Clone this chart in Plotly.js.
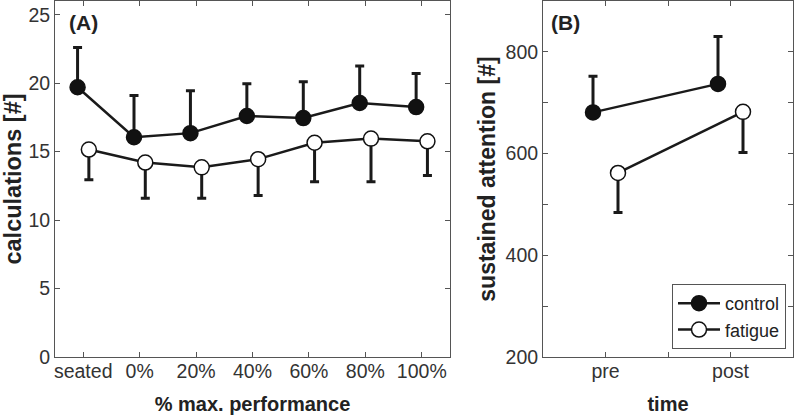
<!DOCTYPE html>
<html>
<head>
<meta charset="utf-8">
<script src="https://cdn.plot.ly/plotly-3.0.1.min.js"></script>
<style>html,body{margin:0;padding:0;background:#fff;}#chart{width:795px;height:420px;}</style>
</head>
<body>
<div id="chart"></div>
<script>
// Panel A data
const categoriesA = ['seated', '0%', '20%', '40%', '60%', '80%', '100%'];
const controlA = [19.7, 16.05, 16.35, 17.6, 17.45, 18.55, 18.25];
const controlAErrUp = [2.9, 3.05, 3.1, 2.35, 2.65, 2.7, 2.45];
const fatigueA = [15.15, 14.2, 13.85, 14.45, 15.65, 15.95, 15.75];
const fatigueAErrDown = [2.2, 2.6, 2.25, 2.65, 2.85, 3.15, 2.5];
const yTicksA = [0, 5, 10, 15, 20, 25];

// Panel B data
const categoriesB = ['pre', 'post'];
const controlB = [681, 737];
const controlBErrUp = [71, 93];
const fatigueB = [562, 682];
const fatigueBErrDown = [78, 80];
const yTicksB = [200, 300, 400, 500, 600, 700, 800, 900];
const yTickTextB = ['200', '', '400', '', '600', '', '800', ''];
const xTicksB = [1, 1.5, 2];
const xTickTextB = ['pre', '', 'post'];

const seriesNames = ['control', 'fatigue'];

const ink = '#1a1a1a';
const frame = '#555555';
const font = 'Liberation Sans, Arial, Helvetica, sans-serif';

function idx(arr, off, base) { return arr.map((_, i) => i + base + off); }

const markerCtrl = {symbol: 'circle', size: 15, color: '#111111', line: {color: '#111111', width: 1.5}};
const markerFat = {symbol: 'circle', size: 15, color: '#ffffff', line: {color: '#111111', width: 1.5}};

const traces = [
  {
    x: idx(categoriesA, -0.1, 0), y: controlA, name: seriesNames[0], type: 'scatter', mode: 'lines+markers',
    xaxis: 'x', yaxis: 'y', line: {color: ink, width: 2.5}, marker: markerCtrl, showlegend: false,
    error_y: {type: 'data', symmetric: false, array: controlAErrUp, arrayminus: controlA.map(() => 0), color: ink, thickness: 3, width: 4.5}
  },
  {
    x: idx(categoriesA, 0.1, 0), y: fatigueA, name: seriesNames[1], type: 'scatter', mode: 'lines+markers',
    xaxis: 'x', yaxis: 'y', line: {color: ink, width: 2.5}, marker: markerFat, showlegend: false,
    error_y: {type: 'data', symmetric: false, array: fatigueA.map(() => 0), arrayminus: fatigueAErrDown, color: ink, thickness: 3, width: 4.5}
  },
  {
    x: idx(categoriesB, -0.1, 1), y: controlB, name: seriesNames[0], type: 'scatter', mode: 'lines+markers',
    xaxis: 'x2', yaxis: 'y2', line: {color: ink, width: 2.5}, marker: markerCtrl, showlegend: true,
    error_y: {type: 'data', symmetric: false, array: controlBErrUp, arrayminus: controlB.map(() => 0), color: ink, thickness: 3, width: 4.5}
  },
  {
    x: idx(categoriesB, 0.1, 1), y: fatigueB, name: seriesNames[1], type: 'scatter', mode: 'lines+markers',
    xaxis: 'x2', yaxis: 'y2', line: {color: ink, width: 2.5}, marker: markerFat, showlegend: true,
    error_y: {type: 'data', symmetric: false, array: fatigueB.map(() => 0), arrayminus: fatigueBErrDown, color: ink, thickness: 3, width: 4.5}
  }
];

const axisCommon = {
  showline: true, mirror: 'ticks', linecolor: frame, linewidth: 1,
  ticks: 'inside', ticklen: 5, tickcolor: frame, tickwidth: 1,
  showgrid: false, zeroline: false, automargin: false,
  tickfont: {family: font, size: 19.5, color: '#333333'}
};

const layout = {
  width: 795, height: 420,
  margin: {l: 0, r: 0, t: 1, b: 63},
  paper_bgcolor: '#ffffff', plot_bgcolor: '#ffffff',
  font: {family: font, color: '#222222'},
  xaxis: Object.assign({}, axisCommon, {
    domain: [55 / 795, 450 / 795], range: [-0.5, 6.5],
    tickvals: categoriesA.map((_, i) => i), ticktext: categoriesA, ticklabelstandoff: -3,
    title: {text: '% max. performance', font: {family: font, size: 20, color: '#222222', weight: 'bold'}, standoff: 15}
  }),
  yaxis: Object.assign({}, axisCommon, {
    domain: [0, 1], range: [0, 26], tickvals: yTicksA,
    title: {text: 'calculations [#]', font: {family: font, size: 23.5, color: '#222222', weight: 'bold'}, standoff: 3}
  }),
  xaxis2: Object.assign({}, axisCommon, {
    domain: [543 / 795, 793 / 795], range: [0.5, 2.5], anchor: 'y2',
    tickvals: xTicksB, ticktext: xTickTextB, ticklabelstandoff: -3,
    title: {text: 'time', font: {family: font, size: 20, color: '#222222', weight: 'bold'}, standoff: 15}
  }),
  yaxis2: Object.assign({}, axisCommon, {
    domain: [0, 1], range: [200, 900], anchor: 'x2',
    tickvals: yTicksB, ticktext: yTickTextB,
    title: {text: 'sustained attention [#]', font: {family: font, size: 23, color: '#222222', weight: 'bold'}, standoff: 3}
  }),
  showlegend: true,
  legend: {
    x: 786 / 795, xanchor: 'right', y: (357 - 349) / 356, yanchor: 'bottom',
    bgcolor: '#ffffff', bordercolor: frame, borderwidth: 1,
    font: {family: font, size: 18, color: '#222222'},
    tracegroupgap: 0, itemwidth: 42
  },
  annotations: [
    {text: '(A)', xref: 'x domain', yref: 'y domain', x: 0.03, y: 0.94, xanchor: 'left', yanchor: 'middle', showarrow: false,
     font: {family: font, size: 21, color: '#222222', weight: 'bold'}},
    {text: '(B)', xref: 'x2 domain', yref: 'y2 domain', x: 0.025, y: 0.94, xanchor: 'left', yanchor: 'middle', showarrow: false,
     font: {family: font, size: 21, color: '#222222', weight: 'bold'}}
  ]
};

Plotly.newPlot('chart', traces, layout, {displayModeBar: false, staticPlot: true});
</script>
</body>
</html>
